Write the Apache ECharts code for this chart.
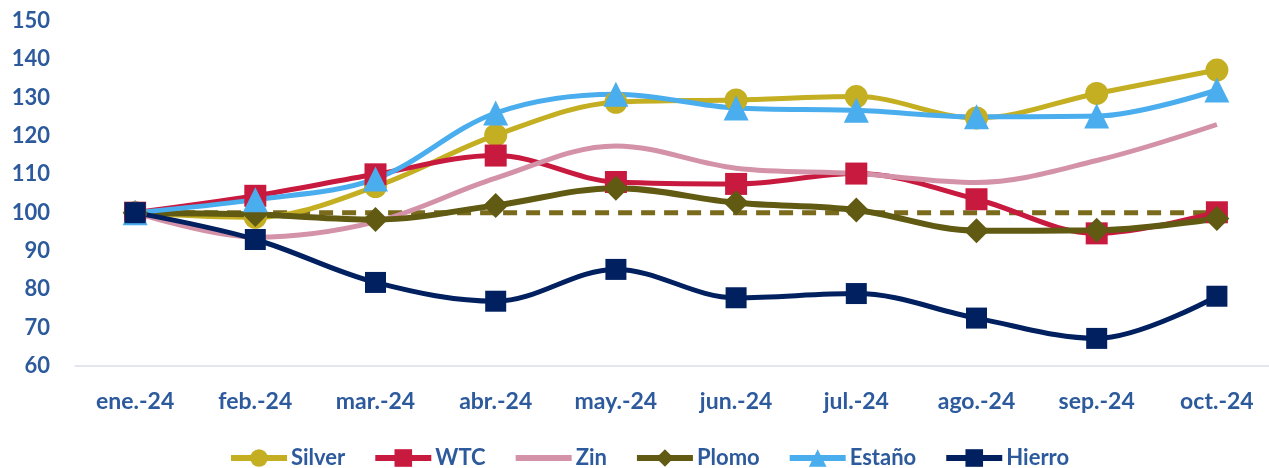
<!DOCTYPE html>
<html>
<head>
<meta charset="utf-8">
<script src="https://cdn.jsdelivr.net/npm/echarts@6/dist/echarts.min.js"></script>
<style>
  html, body { margin: 0; padding: 0; background: #fff; }
  #chart { width: 1269px; height: 468px; }
</style>
</head>
<body>
<div id="chart"></div>
<script>
// Monthly index, base ene.-24 = 100
const months = ['ene.-24', 'feb.-24', 'mar.-24', 'abr.-24', 'may.-24', 'jun.-24', 'jul.-24', 'ago.-24', 'sep.-24', 'oct.-24'];
const silver = [100, 98.8, 106.8, 120.2, 128.8, 129.4, 130.3, 124.7, 131.1, 137.2];
const wtc    = [100, 104.4, 110.0, 114.9, 108.0, 107.5, 110.2, 103.5, 94.6, 100.1];
const zin    = [100, 93.6, 97.6, 109.0, 117.4, 111.6, 110.2, 107.9, 113.6, 123.0];
const plomo  = [100, 99.5, 98.2, 101.9, 106.4, 102.6, 100.7, 95.3, 95.4, 98.5];
const estano = [100, 103.4, 108.8, 126.0, 130.9, 127.3, 126.7, 125.0, 125.2, 132.0];
const hierro = [100, 93.0, 81.8, 76.9, 85.2, 77.8, 78.9, 72.5, 67.2, 78.2];
const base   = [100, 100, 100, 100, 100, 100, 100, 100, 100, 100];

const FONT = 'Lato';
const TEXT_BLUE = '#2C5A9C';

function lineSeries(name, data, color, symbol, symbolSize, width) {
  return {
    name, type: 'line', data, smooth: 0.35,
    symbol, symbolSize,
    itemStyle: { color },
    lineStyle: { color, width },
    emphasis: { disabled: true },
    z: 3
  };
}

const chart = echarts.init(document.getElementById('chart'), null, { renderer: 'canvas' });
chart.setOption({
  animation: false,
  backgroundColor: '#ffffff',
  grid: { left: 75, top: 21, width: 1202, height: 345, outerBoundsMode: 'none', containLabel: false },
  xAxis: {
    type: 'category',
    data: months,
    boundaryGap: true,
    axisLine: { show: true, lineStyle: { color: '#D9DEE8', width: 1.5 } },
    axisTick: { show: false },
    axisLabel: { color: TEXT_BLUE, fontFamily: FONT, fontWeight: 'bold', fontSize: 23, margin: 24 }
  },
  yAxis: {
    type: 'value', min: 60, max: 150, interval: 10,
    axisLine: { show: false },
    axisTick: { show: false },
    splitLine: { show: false },
    axisLabel: { color: TEXT_BLUE, fontFamily: FONT, fontWeight: 'bold', fontSize: 22, margin: 25 }
  },
  legend: {
    top: 447,
    left: 228,
    padding: 0,
    itemWidth: 56,
    itemHeight: 22,
    itemGap: 27,
    lineStyle: { width: 6 },
    textStyle: { color: TEXT_BLUE, fontFamily: FONT, fontWeight: 'bold', fontSize: 22, padding: [0, 0, 0, -1] },
    data: [
      'Silver', 'WTC',
      { name: 'Zin', itemStyle: { opacity: 0 } },
      'Plomo', 'Estaño', 'Hierro'
    ]
  },
  series: [
    {
      name: 'Base', type: 'line', data: base, symbol: 'none',
      lineStyle: { color: '#7A6A1C', width: 5, type: [14, 9] },
      emphasis: { disabled: true }, z: 2
    },
    lineSeries('Silver', silver, '#C4AE22', 'circle', 23, 5),
    lineSeries('WTC', wtc, '#C8193F', 'rect', 22, 5),
    lineSeries('Zin', zin, '#D492A8', 'none', 0, 5),
    lineSeries('Plomo', plomo, '#615A12', 'diamond', 25, 6),
    lineSeries('Estaño', estano, '#4AADEE', 'triangle', 25, 5),
    lineSeries('Hierro', hierro, '#002060', 'rect', 21, 5)
  ]
});
</script>
</body>
</html>
